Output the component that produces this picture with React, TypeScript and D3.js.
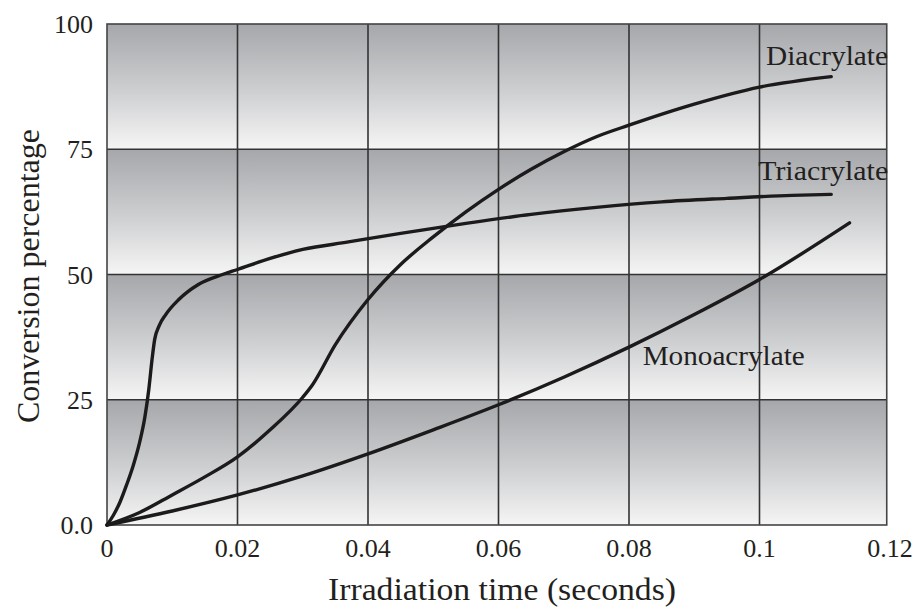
import React from "react";
import * as d3 from "d3";

type Pt = [number, number];

const xTicks = [0, 0.02, 0.04, 0.06, 0.08, 0.1, 0.12];
const xTickLabels = ["0", "0.02", "0.04", "0.06", "0.08", "0.1", "0.12"];
const yTicks = [0, 25, 50, 75, 100];
const yTickLabels = ["0.0", "25", "50", "75", "100"];

const triacrylate: Pt[] = [
  [0, 0], [0.001, 2], [0.002, 4.6], [0.003, 8], [0.004, 11.8], [0.005, 16.5],
  [0.0058, 21.5], [0.0064, 27], [0.0069, 33], [0.0073, 37], [0.008, 39.8],
  [0.009, 42], [0.011, 45], [0.014, 48], [0.0177, 50], [0.02, 51], [0.025, 53.2],
  [0.03, 55], [0.037, 56.5], [0.045, 58.2], [0.055, 60.2], [0.065, 62],
  [0.075, 63.4], [0.085, 64.5], [0.095, 65.2], [0.105, 65.8], [0.111, 66],
];

const diacrylate: Pt[] = [
  [0, 0], [0.005, 2.5], [0.01, 6], [0.015, 9.6], [0.02, 13.6], [0.025, 19],
  [0.03, 25.5], [0.0315, 28], [0.035, 36], [0.04, 45], [0.045, 52], [0.05, 57.5],
  [0.055, 62.5], [0.06, 67], [0.065, 71], [0.07, 74.5], [0.075, 77.5], [0.08, 79.8],
  [0.09, 84], [0.1, 87.4], [0.111, 89.5],
];

const monoacrylate: Pt[] = [
  [0, 0], [0.01, 2.8], [0.02, 6], [0.03, 9.8], [0.04, 14.2], [0.05, 19],
  [0.06, 24], [0.07, 29.5], [0.08, 35.5], [0.09, 42], [0.1, 49], [0.1138, 60.3],
];

const seriesLabels = [
  { name: "Diacrylate", x: 0.101, y: 91.8, width: 122 },
  { name: "Triacrylate", x: 0.0998, y: 68.9, width: 130 },
  { name: "Monoacrylate", x: 0.0821, y: 31.9, width: 162 },
];

const W = 920;
const H = 609;
const left = 107;
const right = 890;
const top = 24;
const bottom = 525;
const xMaxShown = 0.1195;

const ink = "#231f20";
const font = "'Liberation Serif', 'Times New Roman', serif";

export default function App() {
  const x = d3.scaleLinear().domain([0, 0.12]).range([left, right]);
  const y = d3.scaleLinear().domain([0, 100]).range([bottom, top]);
  const line = d3
    .line<Pt>()
    .x((d) => x(d[0]))
    .y((d) => y(d[1]))
    .curve(d3.curveMonotoneX);

  const frameRight = x(xMaxShown);
  const bands = d3.pairs(yTicks);

  return (
    <svg
      width={W}
      height={H}
      style={{ position: "absolute", left: 0, top: 0, background: "#fff" }}
      fontFamily={font}
    >
      <defs>
        <linearGradient id="band" x1="0" y1="0" x2="0" y2="1">
          <stop offset="0" stopColor="#a5a7aa" />
          <stop offset="0.55" stopColor="#cfd0d2" />
          <stop offset="1" stopColor="#f5f5f5" />
        </linearGradient>
      </defs>

      {bands.map(([lo, hi]) => (
        <rect
          key={lo}
          x={left}
          y={y(hi)}
          width={frameRight - left}
          height={y(lo) - y(hi)}
          fill="url(#band)"
        />
      ))}

      {xTicks
        .filter((t) => t > 0 && t < xMaxShown)
        .map((t) => (
          <line key={t} x1={x(t)} x2={x(t)} y1={top} y2={bottom} stroke="#333" strokeWidth={1.6} />
        ))}
      {yTicks
        .filter((t) => t > 0 && t < 100)
        .map((t) => (
          <line key={t} x1={left} x2={frameRight} y1={y(t)} y2={y(t)} stroke="#333" strokeWidth={1.6} />
        ))}
      <rect
        x={left}
        y={top}
        width={frameRight - left}
        height={bottom - top}
        fill="none"
        stroke="#444"
        strokeWidth={1.6}
      />

      {[triacrylate, diacrylate, monoacrylate].map((s, i) => (
        <path
          key={i}
          d={line(s) ?? ""}
          fill="none"
          stroke="#1c1a1b"
          strokeWidth={3.4}
          strokeLinecap="round"
          strokeLinejoin="round"
        />
      ))}

      {seriesLabels.map((l) => (
        <text
          key={l.name}
          x={x(l.x)}
          y={y(l.y)}
          fontSize={28}
          fill={ink}
          textLength={l.width}
          lengthAdjust="spacingAndGlyphs"
        >
          {l.name}
        </text>
      ))}

      {yTicks.map((t, i) => (
        <text
          key={t}
          x={93}
          y={y(t)}
          dy="0.35em"
          textAnchor="end"
          fontSize={26}
          fill={ink}
        >
          {yTickLabels[i]}
        </text>
      ))}
      {xTicks.map((t, i) => (
        <text key={t} x={x(t)} y={557} textAnchor="middle" fontSize={26} fill={ink}>
          {xTickLabels[i]}
        </text>
      ))}

      <text
        x={502}
        y={600}
        textAnchor="middle"
        fontSize={31}
        fill={ink}
        textLength={348}
        lengthAdjust="spacingAndGlyphs"
      >
        Irradiation time (seconds)
      </text>
      <text
        transform={`translate(39, 276) rotate(-90)`}
        textAnchor="middle"
        fontSize={31}
        fill={ink}
        textLength={294}
        lengthAdjust="spacingAndGlyphs"
      >
        Conversion percentage
      </text>
    </svg>
  );
}
